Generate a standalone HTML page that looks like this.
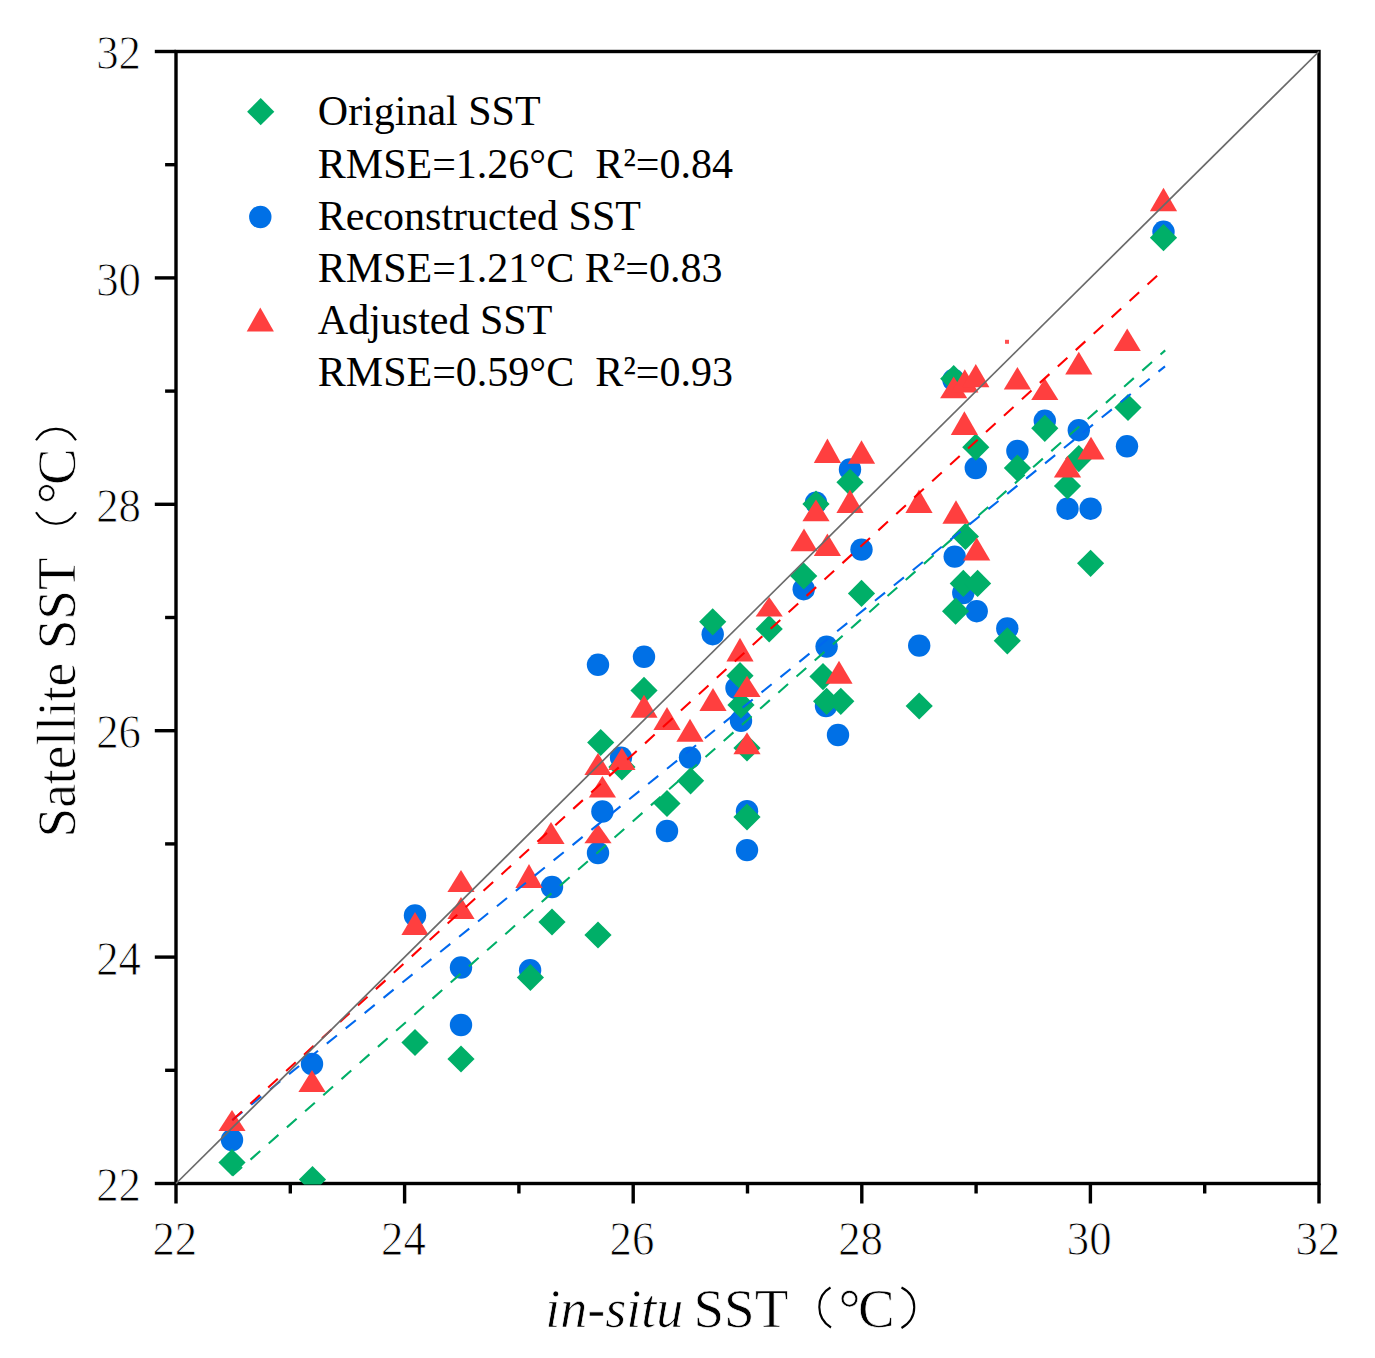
<!DOCTYPE html>
<html><head><meta charset="utf-8"><style>
html,body{margin:0;padding:0;background:#fff;}
svg{display:block;}
text{font-family:"Liberation Serif",serif;fill:#000;}
.tk{font-size:48.5px;stroke:#fff;stroke-width:0.9px;}
.lg{font-size:42px;}
</style></head><body>
<svg width="1375" height="1358" viewBox="0 0 1375 1358">
<rect width="1375" height="1358" fill="#fff"/>
<defs><clipPath id="pc"><rect x="176" y="51.5" width="1143" height="1133.0"/></clipPath></defs>
<g stroke="#000" stroke-width="3.4" fill="none">
<rect x="176" y="51.5" width="1143" height="1132.0"/>
<line x1="176.0" y1="1183.5" x2="176.0" y2="1203.5"/>
<line x1="176.0" y1="1183.5" x2="154.8" y2="1183.5"/>
<line x1="290.3" y1="1183.5" x2="290.3" y2="1193.5"/>
<line x1="176.0" y1="1070.3" x2="165.1" y2="1070.3"/>
<line x1="404.6" y1="1183.5" x2="404.6" y2="1203.5"/>
<line x1="176.0" y1="957.1" x2="154.8" y2="957.1"/>
<line x1="518.9" y1="1183.5" x2="518.9" y2="1193.5"/>
<line x1="176.0" y1="843.9" x2="165.1" y2="843.9"/>
<line x1="633.2" y1="1183.5" x2="633.2" y2="1203.5"/>
<line x1="176.0" y1="730.7" x2="154.8" y2="730.7"/>
<line x1="747.5" y1="1183.5" x2="747.5" y2="1193.5"/>
<line x1="176.0" y1="617.5" x2="165.1" y2="617.5"/>
<line x1="861.8" y1="1183.5" x2="861.8" y2="1203.5"/>
<line x1="176.0" y1="504.3" x2="154.8" y2="504.3"/>
<line x1="976.1" y1="1183.5" x2="976.1" y2="1193.5"/>
<line x1="176.0" y1="391.1" x2="165.1" y2="391.1"/>
<line x1="1090.4" y1="1183.5" x2="1090.4" y2="1203.5"/>
<line x1="176.0" y1="277.9" x2="154.8" y2="277.9"/>
<line x1="1204.7" y1="1183.5" x2="1204.7" y2="1193.5"/>
<line x1="176.0" y1="164.7" x2="165.1" y2="164.7"/>
<line x1="1319.0" y1="1183.5" x2="1319.0" y2="1203.5"/>
<line x1="176.0" y1="51.5" x2="154.8" y2="51.5"/>
</g>
<g clip-path="url(#pc)">
<circle cx="232.0" cy="1140.0" r="11.2" fill="#0070E6"/>
<circle cx="312.0" cy="1064.0" r="11.2" fill="#0070E6"/>
<circle cx="415.0" cy="915.5" r="11.2" fill="#0070E6"/>
<circle cx="461.0" cy="967.5" r="11.2" fill="#0070E6"/>
<circle cx="461.0" cy="1025.0" r="11.2" fill="#0070E6"/>
<circle cx="530.1" cy="970.2" r="11.2" fill="#0070E6"/>
<circle cx="552.0" cy="887.0" r="11.2" fill="#0070E6"/>
<circle cx="598.0" cy="853.0" r="11.2" fill="#0070E6"/>
<circle cx="602.4" cy="811.5" r="11.2" fill="#0070E6"/>
<circle cx="598.0" cy="664.8" r="11.2" fill="#0070E6"/>
<circle cx="644.0" cy="656.8" r="11.2" fill="#0070E6"/>
<circle cx="621.0" cy="757.6" r="11.2" fill="#0070E6"/>
<circle cx="667.0" cy="831.0" r="11.2" fill="#0070E6"/>
<circle cx="690.0" cy="757.6" r="11.2" fill="#0070E6"/>
<circle cx="712.7" cy="634.2" r="11.2" fill="#0070E6"/>
<circle cx="736.5" cy="688.0" r="11.2" fill="#0070E6"/>
<circle cx="741.0" cy="720.8" r="11.2" fill="#0070E6"/>
<circle cx="747.0" cy="811.2" r="11.2" fill="#0070E6"/>
<circle cx="747.0" cy="850.1" r="11.2" fill="#0070E6"/>
<circle cx="803.7" cy="589.2" r="11.2" fill="#0070E6"/>
<circle cx="826.6" cy="646.6" r="11.2" fill="#0070E6"/>
<circle cx="826.0" cy="706.0" r="11.2" fill="#0070E6"/>
<circle cx="838.0" cy="735.0" r="11.2" fill="#0070E6"/>
<circle cx="850.0" cy="469.4" r="11.2" fill="#0070E6"/>
<circle cx="816.0" cy="502.6" r="11.2" fill="#0070E6"/>
<circle cx="861.5" cy="549.6" r="11.2" fill="#0070E6"/>
<circle cx="953.5" cy="380.0" r="11.2" fill="#0070E6"/>
<circle cx="975.8" cy="468.0" r="11.2" fill="#0070E6"/>
<circle cx="1044.8" cy="420.8" r="11.2" fill="#0070E6"/>
<circle cx="1017.4" cy="451.0" r="11.2" fill="#0070E6"/>
<circle cx="1078.8" cy="430.2" r="11.2" fill="#0070E6"/>
<circle cx="1067.5" cy="508.7" r="11.2" fill="#0070E6"/>
<circle cx="1090.6" cy="508.7" r="11.2" fill="#0070E6"/>
<circle cx="1127.0" cy="446.3" r="11.2" fill="#0070E6"/>
<circle cx="954.7" cy="556.6" r="11.2" fill="#0070E6"/>
<circle cx="963.3" cy="593.0" r="11.2" fill="#0070E6"/>
<circle cx="976.7" cy="611.2" r="11.2" fill="#0070E6"/>
<circle cx="1007.3" cy="628.4" r="11.2" fill="#0070E6"/>
<circle cx="919.2" cy="645.6" r="11.2" fill="#0070E6"/>
<circle cx="1163.5" cy="231.8" r="11.2" fill="#0070E6"/>
<path d="M232.0 1148.9L245.6 1162.5L232.0 1176.1L218.4 1162.5Z" fill="#00AF68"/>
<path d="M312.5 1165.9L326.1 1179.5L312.5 1193.1L298.9 1179.5Z" fill="#00AF68"/>
<path d="M415.0 1028.9L428.6 1042.5L415.0 1056.1L401.4 1042.5Z" fill="#00AF68"/>
<path d="M461.0 1045.4L474.6 1059.0L461.0 1072.6L447.4 1059.0Z" fill="#00AF68"/>
<path d="M530.4 963.9L544.0 977.5L530.4 991.1L516.8 977.5Z" fill="#00AF68"/>
<path d="M552.0 908.4L565.6 922.0L552.0 935.6L538.4 922.0Z" fill="#00AF68"/>
<path d="M598.0 921.4L611.6 935.0L598.0 948.6L584.4 935.0Z" fill="#00AF68"/>
<path d="M600.7 728.9L614.3 742.5L600.7 756.1L587.1 742.5Z" fill="#00AF68"/>
<path d="M621.9 753.4L635.5 767.0L621.9 780.6L608.3 767.0Z" fill="#00AF68"/>
<path d="M644.0 676.8L657.6 690.4L644.0 704.0L630.4 690.4Z" fill="#00AF68"/>
<path d="M667.0 789.9L680.6 803.5L667.0 817.1L653.4 803.5Z" fill="#00AF68"/>
<path d="M690.6 767.2L704.2 780.8L690.6 794.4L677.0 780.8Z" fill="#00AF68"/>
<path d="M712.7 608.2L726.3 621.8L712.7 635.4L699.1 621.8Z" fill="#00AF68"/>
<path d="M740.0 662.1L753.6 675.7L740.0 689.3L726.4 675.7Z" fill="#00AF68"/>
<path d="M741.0 691.3L754.6 704.9L741.0 718.5L727.4 704.9Z" fill="#00AF68"/>
<path d="M747.0 734.4L760.6 748.0L747.0 761.6L733.4 748.0Z" fill="#00AF68"/>
<path d="M747.0 803.4L760.6 817.0L747.0 830.6L733.4 817.0Z" fill="#00AF68"/>
<path d="M769.2 615.3L782.8 628.9L769.2 642.5L755.6 628.9Z" fill="#00AF68"/>
<path d="M803.7 562.4L817.3 576.0L803.7 589.6L790.1 576.0Z" fill="#00AF68"/>
<path d="M823.0 663.0L836.6 676.6L823.0 690.2L809.4 676.6Z" fill="#00AF68"/>
<path d="M826.6 687.7L840.2 701.3L826.6 714.9L813.0 701.3Z" fill="#00AF68"/>
<path d="M840.8 687.7L854.4 701.3L840.8 714.9L827.2 701.3Z" fill="#00AF68"/>
<path d="M850.0 468.7L863.6 482.3L850.0 495.9L836.4 482.3Z" fill="#00AF68"/>
<path d="M816.0 490.4L829.6 504.0L816.0 517.6L802.4 504.0Z" fill="#00AF68"/>
<path d="M861.5 579.8L875.1 593.4L861.5 607.0L847.9 593.4Z" fill="#00AF68"/>
<path d="M953.7 365.1L967.3 378.7L953.7 392.3L940.1 378.7Z" fill="#00AF68"/>
<path d="M975.8 433.6L989.4 447.2L975.8 460.8L962.2 447.2Z" fill="#00AF68"/>
<path d="M1044.8 414.7L1058.4 428.3L1044.8 441.9L1031.2 428.3Z" fill="#00AF68"/>
<path d="M1017.4 454.4L1031.0 468.0L1017.4 481.6L1003.8 468.0Z" fill="#00AF68"/>
<path d="M1078.8 445.0L1092.4 458.6L1078.8 472.2L1065.2 458.6Z" fill="#00AF68"/>
<path d="M1067.5 472.4L1081.1 486.0L1067.5 499.6L1053.9 486.0Z" fill="#00AF68"/>
<path d="M1128.0 393.9L1141.6 407.5L1128.0 421.1L1114.4 407.5Z" fill="#00AF68"/>
<path d="M965.4 522.9L979.0 536.5L965.4 550.1L951.8 536.5Z" fill="#00AF68"/>
<path d="M963.3 569.8L976.9 583.4L963.3 597.0L949.7 583.4Z" fill="#00AF68"/>
<path d="M977.6 569.8L991.2 583.4L977.6 597.0L964.0 583.4Z" fill="#00AF68"/>
<path d="M955.6 597.6L969.2 611.2L955.6 624.8L942.0 611.2Z" fill="#00AF68"/>
<path d="M1007.3 627.2L1020.9 640.8L1007.3 654.4L993.7 640.8Z" fill="#00AF68"/>
<path d="M919.2 692.4L932.8 706.0L919.2 719.6L905.6 706.0Z" fill="#00AF68"/>
<path d="M1090.6 549.7L1104.2 563.3L1090.6 576.9L1077.0 563.3Z" fill="#00AF68"/>
<path d="M1163.5 224.1L1177.1 237.7L1163.5 251.3L1149.9 237.7Z" fill="#00AF68"/>
<path d="M232.0 1110.0L245.6 1131.0L218.4 1131.0Z" fill="#FF3F3F"/>
<path d="M312.0 1070.0L325.6 1092.0L298.4 1092.0Z" fill="#FF3F3F"/>
<path d="M415.0 912.0L428.6 935.0L401.4 935.0Z" fill="#FF3F3F"/>
<path d="M461.0 870.0L474.6 892.0L447.4 892.0Z" fill="#FF3F3F"/>
<path d="M461.0 897.0L474.6 919.0L447.4 919.0Z" fill="#FF3F3F"/>
<path d="M529.0 864.0L542.6 888.0L515.4 888.0Z" fill="#FF3F3F"/>
<path d="M551.0 822.0L564.6 844.0L537.4 844.0Z" fill="#FF3F3F"/>
<path d="M598.0 823.9L611.6 843.3L584.4 843.3Z" fill="#FF3F3F"/>
<path d="M602.4 776.0L616.0 797.4L588.8 797.4Z" fill="#FF3F3F"/>
<path d="M598.0 753.0L611.6 775.0L584.4 775.0Z" fill="#FF3F3F"/>
<path d="M621.9 747.8L635.5 770.0L608.3 770.0Z" fill="#FF3F3F"/>
<path d="M644.0 694.8L657.6 717.8L630.4 717.8Z" fill="#FF3F3F"/>
<path d="M667.0 707.0L680.6 730.0L653.4 730.0Z" fill="#FF3F3F"/>
<path d="M690.0 718.7L703.6 741.7L676.4 741.7Z" fill="#FF3F3F"/>
<path d="M713.0 688.0L726.6 711.0L699.4 711.0Z" fill="#FF3F3F"/>
<path d="M740.0 637.7L753.6 661.6L726.4 661.6Z" fill="#FF3F3F"/>
<path d="M747.0 675.7L760.6 697.0L733.4 697.0Z" fill="#FF3F3F"/>
<path d="M747.0 732.3L760.6 754.3L733.4 754.3Z" fill="#FF3F3F"/>
<path d="M769.2 597.0L782.8 616.5L755.6 616.5Z" fill="#FF3F3F"/>
<path d="M804.0 528.5L817.6 551.2L790.4 551.2Z" fill="#FF3F3F"/>
<path d="M827.4 438.6L841.0 462.9L813.8 462.9Z" fill="#FF3F3F"/>
<path d="M827.4 533.4L841.0 556.0L813.8 556.0Z" fill="#FF3F3F"/>
<path d="M839.0 660.7L852.6 683.7L825.4 683.7Z" fill="#FF3F3F"/>
<path d="M850.0 489.6L863.6 513.0L836.4 513.0Z" fill="#FF3F3F"/>
<path d="M861.5 440.2L875.1 463.7L847.9 463.7Z" fill="#FF3F3F"/>
<path d="M816.0 499.4L829.6 521.2L802.4 521.2Z" fill="#FF3F3F"/>
<path d="M919.0 489.6L932.6 513.0L905.4 513.0Z" fill="#FF3F3F"/>
<path d="M953.7 376.5L967.3 398.3L940.1 398.3Z" fill="#FF3F3F"/>
<path d="M964.8 369.2L978.4 392.5L951.2 392.5Z" fill="#FF3F3F"/>
<path d="M975.8 364.0L989.4 387.2L962.2 387.2Z" fill="#FF3F3F"/>
<path d="M964.4 411.3L978.0 435.0L950.8 435.0Z" fill="#FF3F3F"/>
<path d="M1017.4 366.9L1031.0 389.6L1003.8 389.6Z" fill="#FF3F3F"/>
<path d="M1044.8 378.2L1058.4 400.0L1031.2 400.0Z" fill="#FF3F3F"/>
<path d="M1078.8 351.7L1092.4 374.4L1065.2 374.4Z" fill="#FF3F3F"/>
<path d="M1127.2 328.5L1140.8 351.0L1113.6 351.0Z" fill="#FF3F3F"/>
<path d="M1091.0 436.8L1104.6 459.5L1077.4 459.5Z" fill="#FF3F3F"/>
<path d="M1067.5 455.8L1081.1 477.5L1053.9 477.5Z" fill="#FF3F3F"/>
<path d="M956.0 500.2L969.6 523.8L942.4 523.8Z" fill="#FF3F3F"/>
<path d="M976.7 537.4L990.3 560.4L963.1 560.4Z" fill="#FF3F3F"/>
<path d="M1163.5 187.7L1177.1 211.2L1149.9 211.2Z" fill="#FF3F3F"/>
</g>
<rect x="1005" y="339.8" width="4" height="4" fill="#FF5050"/>
<line x1="232.3" y1="1175.7" x2="1165.2" y2="350.4" stroke="#00AF68" stroke-width="2.1" stroke-dasharray="13 11.3"/>
<line x1="232.3" y1="1120.0" x2="1165.0" y2="366.4" stroke="#0068EE" stroke-width="2.1" stroke-dasharray="13 11.3"/>
<line x1="232.3" y1="1120.2" x2="1163.5" y2="270.0" stroke="#FF0000" stroke-width="2.1" stroke-dasharray="13 11.3"/>
<line x1="176" y1="1183.5" x2="1319" y2="51.5" stroke="#6a6a6a" stroke-width="1.7"/>
<g class="tk">
<text transform="translate(141,1201.1) scale(0.925,1)" text-anchor="end">22</text>
<text transform="translate(174.8,1255.1) scale(0.925,1)" text-anchor="middle">22</text>
<text transform="translate(141,974.7) scale(0.925,1)" text-anchor="end">24</text>
<text transform="translate(403.4,1255.1) scale(0.925,1)" text-anchor="middle">24</text>
<text transform="translate(141,748.3) scale(0.925,1)" text-anchor="end">26</text>
<text transform="translate(632.0,1255.1) scale(0.925,1)" text-anchor="middle">26</text>
<text transform="translate(141,521.9) scale(0.925,1)" text-anchor="end">28</text>
<text transform="translate(860.6,1255.1) scale(0.925,1)" text-anchor="middle">28</text>
<text transform="translate(141,295.5) scale(0.925,1)" text-anchor="end">30</text>
<text transform="translate(1089.2,1255.1) scale(0.925,1)" text-anchor="middle">30</text>
<text transform="translate(141,69.1) scale(0.925,1)" text-anchor="end">32</text>
<text transform="translate(1317.8,1255.1) scale(0.925,1)" text-anchor="middle">32</text>
</g>
<!-- legend -->
<path d="M260.7 98.1L274.3 111.7L260.7 125.3L247.1 111.7Z" fill="#00AF68"/>
<circle cx="260.3" cy="217.0" r="11.2" fill="#0070E6"/>
<path d="M260.3 307.5L273.9 331.5L246.7 331.5Z" fill="#FF3F3F"/>
<g class="lg">
<text x="317.8" y="125">Original SST</text>
<text x="317.8" y="178" xml:space="preserve">RMSE=1.26°C  R²=0.84</text>
<text x="317.8" y="229.5">Reconstructed SST</text>
<text x="317.8" y="282">RMSE=1.21°C R²=0.83</text>
<text x="317.8" y="333.5">Adjusted SST</text>
<text x="317.8" y="386" xml:space="preserve">RMSE=0.59°C  R²=0.93</text>
</g>
<!-- axis titles -->
<g font-size="55" stroke="#fff" stroke-width="0.7">
<text transform="translate(74.5,837.5) rotate(-90) scale(0.97,1)">Satellite SST</text>
<text transform="translate(74.5,504.1) rotate(-90)">°</text>
<text transform="translate(74.5,485) rotate(-90)">C</text>
<text x="545.3" y="1327" font-style="italic" font-size="54">in-situ</text>
<text x="693.5" y="1327">SST</text>
<text x="838.6" y="1327">°</text>
<text x="858" y="1327">C</text>
</g>
<g fill="none" stroke="#000" stroke-width="2.1">
<path d="M830.5 1287.5C815.5 1296 815.5 1318 831 1327.5"/>
<path d="M901.5 1287.5C918.5 1296 918.5 1318 901.5 1328"/>
<path d="M36 440.3C45 425 67 425 76 440.3"/>
<path d="M36 512.3C45 527.5 67 527.5 76 512.3"/>
</g>
</svg>
</body></html>
